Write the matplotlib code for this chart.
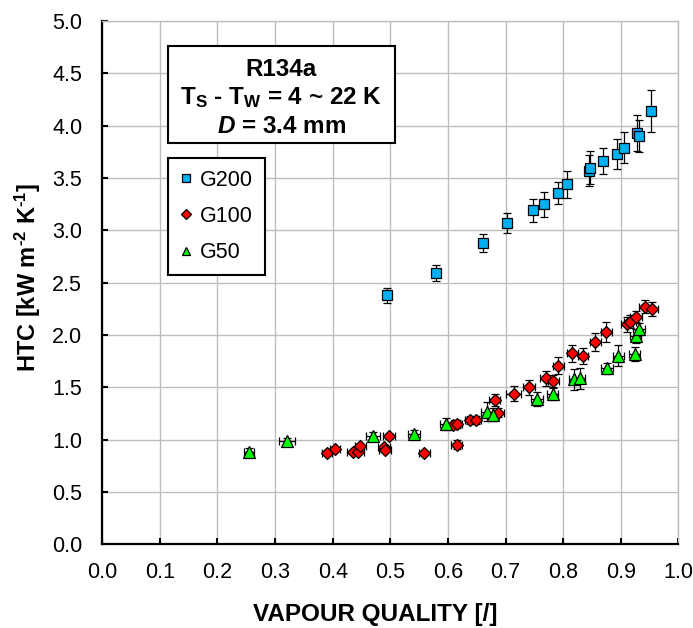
import matplotlib
matplotlib.use('Agg')
import matplotlib.pyplot as plt
from matplotlib.patches import Rectangle

plt.rcParams['font.family'] = ['Liberation Sans', 'DejaVu Sans']
plt.rcParams['mathtext.fontset'] = 'custom'
plt.rcParams['mathtext.rm'] = 'Liberation Sans:bold'
plt.rcParams['mathtext.bf'] = 'Liberation Sans:bold'
plt.rcParams['mathtext.it'] = 'Liberation Sans:italic:bold'
plt.rcParams['mathtext.bfit'] = 'Liberation Sans:italic:bold'

# G200 series
g200_x = [0.494, 0.580, 0.661, 0.703, 0.747, 0.767, 0.791, 0.806, 0.845, 0.846,
          0.869, 0.894, 0.906, 0.929, 0.931, 0.952]
g200_y = [2.38, 2.59, 2.88, 3.07, 3.19, 3.25, 3.36, 3.44, 3.57, 3.60,
          3.66, 3.73, 3.79, 3.93, 3.90, 4.14]
g200_yerr = [0.07, 0.075, 0.085, 0.10, 0.11, 0.12, 0.105, 0.13, 0.15, 0.155,
             0.125, 0.14, 0.15, 0.17, 0.15, 0.20]
g200_xerr = [0.006] * 16

# G100 series
g100_x = [0.390, 0.404, 0.435, 0.444, 0.448, 0.489, 0.491, 0.498, 0.559, 0.608,
          0.615, 0.615, 0.639, 0.648, 0.681, 0.687, 0.714, 0.741, 0.770, 0.783,
          0.792, 0.816, 0.835, 0.856, 0.875, 0.911, 0.916, 0.927, 0.942, 0.954]
g100_y = [0.87, 0.91, 0.88, 0.88, 0.94, 0.93, 0.90, 1.03, 0.876, 1.136,
          1.15, 0.952, 1.19, 1.19, 1.378, 1.257, 1.438, 1.50, 1.587, 1.556,
          1.708, 1.825, 1.80, 1.933, 2.025, 2.10, 2.127, 2.175, 2.27, 2.25]
g100_yerr = [0.02, 0.02, 0.02, 0.02, 0.02, 0.02, 0.02, 0.025, 0.02, 0.03,
             0.04, 0.045, 0.04, 0.04, 0.06, 0.045, 0.07, 0.07, 0.07, 0.065,
             0.08, 0.08, 0.08, 0.085, 0.095, 0.07, 0.06, 0.05, 0.06, 0.065]
g100_xerr = [0.008, 0.008, 0.01, 0.01, 0.01, 0.01, 0.01, 0.01, 0.01, 0.01,
             0.01, 0.01, 0.01, 0.01, 0.01, 0.01, 0.013, 0.011, 0.01, 0.01,
             0.01, 0.01, 0.009, 0.01, 0.01, 0.01, 0.01, 0.01, 0.01, 0.01]

# G50 series
g50_x = [0.255, 0.321, 0.470, 0.541, 0.596, 0.668, 0.678, 0.755, 0.782, 0.819,
         0.829, 0.876, 0.896, 0.924, 0.926, 0.932]
g50_y = [0.886, 0.984, 1.03, 1.05, 1.15, 1.267, 1.238, 1.39, 1.44, 1.578,
         1.587, 1.68, 1.80, 1.82, 1.99, 2.057]
g50_yerr = [0.03, 0.03, 0.04, 0.04, 0.06, 0.09, 0.06, 0.065, 0.065, 0.10,
            0.10, 0.055, 0.10, 0.065, 0.07, 0.055]
g50_xerr = [0.009, 0.014, 0.012, 0.01, 0.01, 0.01, 0.01, 0.01, 0.01, 0.009,
            0.009, 0.01, 0.01, 0.01, 0.01, 0.01]

x_ticks = [0.0, 0.1, 0.2, 0.3, 0.4, 0.5, 0.6, 0.7, 0.8, 0.9, 1.0]
y_ticks = [0.0, 0.5, 1.0, 1.5, 2.0, 2.5, 3.0, 3.5, 4.0, 4.5, 5.0]

GRID = '#bdbdbd'

fig = plt.figure(figsize=(6.93, 6.28), dpi=100)
ax = fig.add_axes([0.1476, 0.1333, 0.8312, 0.8333])

series = [
    ('G200', g200_x, g200_y, g200_xerr, g200_yerr, 's', '#00b0f0', 7.6),
    ('G100', g100_x, g100_y, g100_xerr, g100_yerr, 'D', '#ff0000', 6.4),
    ('G50', g50_x, g50_y, g50_xerr, g50_yerr, '^', '#00ff00', 8.6),
]
handles, labels = [], []
for name, xs, ys, xe, ye, mk, col, ms in series:
    eb = ax.errorbar(xs, ys, xerr=xe, yerr=ye, fmt=mk, ms=ms, mfc=col, mec='black',
                     mew=0.9, ecolor='black', elinewidth=0.9, capsize=3.2,
                     capthick=0.9, zorder=3)
    handles.append(eb[0])
    labels.append(name)

ax.set_xlim(0, 1)
ax.set_ylim(0, 5)
ax.set_xticks(x_ticks)
ax.set_yticks(y_ticks)
ax.set_xticklabels([f'{v:.1f}' for v in x_ticks])
ax.set_yticklabels([f'{v:.1f}' for v in y_ticks])
ax.grid(True, color=GRID, lw=1.0)
ax.set_axisbelow(True)
for s in ['top', 'right']:
    ax.spines[s].set_color(GRID)
    ax.spines[s].set_linewidth(1.0)
for s in ['left', 'bottom']:
    ax.spines[s].set_color('black')
    ax.spines[s].set_linewidth(1.6)
ax.tick_params(direction='in', length=4.5, width=1.5, labelsize=15.5, pad=13,
               top=False, right=False)
ax.tick_params(axis='y', pad=14.5)

ax.set_xlabel('VAPOUR QUALITY [/]', fontsize=17.5, fontweight='bold')
ax.xaxis.set_label_coords(0.4747, -0.112)
ax.set_ylabel(r'HTC [kW m$^{\text{-2}}$ K$^{\text{-1}}$]', fontsize=17, fontweight='bold')
ax.yaxis.set_label_coords(-0.103, 0.51)

# conditions box
ax.add_patch(Rectangle((0.114, 0.767), 0.394, 0.185, transform=ax.transAxes,
                       fill=True, fc='white', ec='black', lw=1.5, zorder=5))
ax.text(0.311, 0.8955, 'R134a', transform=ax.transAxes, ha='center', va='baseline',
        fontsize=17.5, fontweight='bold', zorder=6)
ax.text(0.311, 0.8413, r'T$_\text{S}$ - T$_\text{W}$ = 4 ~ 22 K', transform=ax.transAxes,
        ha='center', va='baseline', fontsize=17.5, fontweight='bold', zorder=6)
ax.text(0.311, 0.7866, r'$\mathbfit{D}$ = 3.4 mm', transform=ax.transAxes,
        ha='center', va='baseline', fontsize=17.5, fontweight='bold', zorder=6)

leg = ax.legend(handles, labels, loc='upper left', bbox_to_anchor=(0.114, 0.738),
                borderaxespad=0, fontsize=15.5, markerscale=0.72, handlelength=0.6,
                handletextpad=0.35, labelspacing=0.7, borderpad=0.55, fancybox=False,
                framealpha=1, edgecolor='black')
leg.get_frame().set_linewidth(1.5)
leg.set_zorder(6)

fig.savefig('out.png', dpi=100)
